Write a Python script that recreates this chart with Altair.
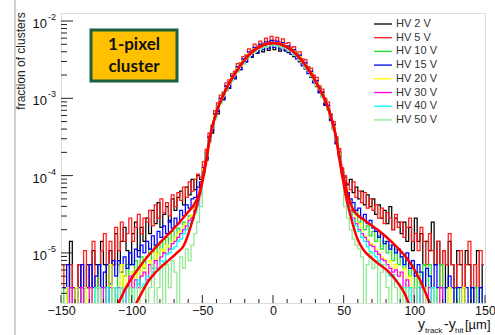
import altair as alt
import pandas as pd

# ---------------- data: log10(fraction of clusters), 2 um bins from -150 to 150 ----------------
bin_centers = list(range(-149, 150, 2))  # 150 bins

hv2_log = [-5.45, -5.45, -7, -4.85, -5.45, -5.45, -5.15, -7, -5.45, -5.15,
           -5.45, -4.97, -5.15, -5.45, -4.85, -5.15, -7, -4.97, -5.15, -4.75,
           -5.15, -4.85, -4.67, -4.97, -5.15, -4.75, -4.60, -4.97, -4.67, -4.85,
           -4.55, -4.75, -4.45, -4.62, -4.35, -4.67, -4.50, -4.40, -4.60, -4.30,
           -4.45, -4.28, -4.20, -4.38, -4.15, -4.25, -4.05, -4.18, -4.00, -4.05,
           -3.95, -3.80, -3.55, -3.45, -3.24, -3.20, -3.04, -3.02, -2.88, -2.87,
           -2.77, -2.75, -2.64, -2.63, -2.55, -2.53, -2.45, -2.47, -2.40, -2.42,
           -2.36, -2.40, -2.33, -2.38, -2.31, -2.37, -2.32, -2.39, -2.34, -2.38,
           -2.41, -2.39, -2.46, -2.45, -2.53, -2.55, -2.62, -2.64, -2.73, -2.77,
           -2.85, -2.92, -2.98, -3.08, -3.15, -3.28, -3.40, -3.58, -3.74, -3.95,
           -4.02, -4.12, -4.05, -4.22, -4.15, -4.30, -4.20, -4.38, -4.25, -4.40,
           -4.30, -4.50, -4.38, -4.55, -4.45, -4.62, -4.40, -4.70, -4.55, -4.60,
           -4.75, -4.60, -4.85, -4.67, -4.97, -4.55, -4.85, -4.75, -5.15, -4.85,
           -4.97, -4.60, -5.15, -4.85, -5.15, -4.97, -5.45, -4.85, -5.15, -5.45,
           -4.97, -5.15, -5.45, -4.97, -5.15, -7, -5.45, -4.97, -5.45, -5.15]
hv5_log = [-5.15, -5.45, -5.45, -5.15, -7, -5.45, -5.15, -5.45, -4.97, -5.45,
           -5.15, -4.85, -5.45, -5.15, -4.97, -4.75, -5.15, -4.85, -5.15, -4.67,
           -4.97, -4.60, -4.85, -4.75, -4.55, -4.85, -4.67, -4.50, -4.75, -4.55,
           -4.60, -4.45, -4.65, -4.38, -4.55, -4.30, -4.48, -4.35, -4.52, -4.25,
           -4.40, -4.22, -4.32, -4.15, -4.28, -4.08, -4.20, -4.05, -3.98, -4.02,
           -3.82, -3.66, -3.45, -3.35, -3.16, -3.06, -2.96, -2.92, -2.80, -2.76,
           -2.68, -2.65, -2.55, -2.54, -2.46, -2.44, -2.36, -2.38, -2.30, -2.32,
           -2.26, -2.29, -2.22, -2.27, -2.20, -2.25, -2.21, -2.27, -2.23, -2.29,
           -2.28, -2.34, -2.33, -2.40, -2.40, -2.49, -2.50, -2.59, -2.61, -2.70,
           -2.73, -2.84, -2.88, -3.00, -3.05, -3.20, -3.30, -3.50, -3.65, -3.90,
           -4.00, -4.10, -4.18, -4.08, -4.28, -4.20, -4.35, -4.22, -4.42, -4.30,
           -4.45, -4.38, -4.55, -4.42, -4.62, -4.48, -4.55, -4.70, -4.50, -4.67,
           -4.60, -4.80, -4.67, -4.55, -4.85, -4.75, -4.97, -4.67, -4.85, -5.15,
           -4.75, -4.97, -5.15, -4.85, -5.45, -4.97, -5.15, -4.75, -5.15, -5.45,
           -5.15, -4.97, -5.45, -5.15, -4.85, -5.45, -5.15, -7, -4.97, -5.15]
hv10_log = [-7, -5.45, -7, -7, -5.45, -5.45, -7, -5.45, -7, -5.45,
            -5.45, -7, -5.45, -5.15, -7, -5.45, -5.45, -5.15, -7, -5.45,
            -5.15, -5.45, -5.30, -5.15, -7, -5.25, -5.10, -5.40, -5.05, -5.20,
            -5.05, -4.95, -5.20, -4.90, -5.10, -4.85, -5.00, -4.80, -4.95, -4.72,
            -4.85, -4.68, -4.75, -4.60, -4.70, -4.52, -4.55, -4.40, -4.30, -4.15,
            -3.94, -3.70, -3.56, -3.35, -3.25, -3.10, -3.05, -2.93, -2.89, -2.79,
            -2.75, -2.67, -2.63, -2.56, -2.53, -2.46, -2.44, -2.39, -2.38, -2.34,
            -2.34, -2.30, -2.31, -2.28, -2.29, -2.28, -2.30, -2.29, -2.32, -2.32,
            -2.36, -2.36, -2.41, -2.42, -2.48, -2.51, -2.58, -2.61, -2.69, -2.73,
            -2.81, -2.86, -2.96, -3.02, -3.13, -3.22, -3.38, -3.52, -3.74, -3.94,
            -4.15, -4.28, -4.35, -4.48, -4.45, -4.60, -4.55, -4.70, -4.65, -4.78,
            -4.72, -4.85, -4.78, -4.95, -4.85, -5.00, -4.90, -5.10, -4.95, -5.15,
            -5.05, -5.20, -5.10, -5.30, -5.15, -7, -5.25, -5.45, -5.15, -5.45,
            -5.15, -5.45, -7, -5.45, -5.15, -5.45, -7, -5.45, -5.45, -7,
            -5.45, -7, -5.45, -7, -7, -5.45, -5.45, -7, -5.45, -7]
hv15_log = [-5.45, -5.45, -5.15, -5.45, -5.45, -7, -5.45, -5.15, -5.45, -5.45,
            -5.15, -5.45, -5.30, -5.15, -5.45, -5.25, -5.15, -5.40, -5.10, -5.30,
            -5.10, -5.25, -5.05, -5.20, -5.00, -5.15, -4.95, -5.05, -4.90, -5.00,
            -4.85, -4.95, -4.78, -4.90, -4.72, -4.80, -4.65, -4.75, -4.58, -4.68,
            -4.55, -4.62, -4.45, -4.52, -4.38, -4.42, -4.30, -4.28, -4.15, -4.08,
            -3.90, -3.78, -3.50, -3.42, -3.20, -3.17, -3.00, -3.01, -2.84, -2.86,
            -2.71, -2.74, -2.59, -2.63, -2.49, -2.53, -2.40, -2.46, -2.34, -2.41,
            -2.30, -2.37, -2.27, -2.35, -2.25, -2.34, -2.26, -2.36, -2.28, -2.39,
            -2.32, -2.43, -2.37, -2.49, -2.44, -2.58, -2.54, -2.68, -2.65, -2.80,
            -2.77, -2.93, -2.92, -3.09, -3.09, -3.29, -3.34, -3.59, -3.70, -3.96,
            -4.10, -4.22, -4.30, -4.35, -4.45, -4.42, -4.55, -4.50, -4.62, -4.58,
            -4.68, -4.72, -4.80, -4.75, -4.88, -4.85, -4.95, -4.90, -5.00, -4.95,
            -5.05, -5.15, -5.00, -5.20, -5.10, -5.30, -5.15, -5.25, -5.45, -5.20,
            -5.30, -5.45, -5.15, -5.45, -5.45, -7, -5.45, -5.30, -5.45, -7,
            -5.45, -5.45, -7, -5.45, -7, -5.45, -7, -7, -5.45, -7]
hv20_log = [-7, -7, -5.45, -7, -7, -5.45, -7, -7, -5.45, -7,
            -5.45, -7, -5.45, -5.45, -7, -5.45, -7, -5.15, -5.45, -7,
            -5.45, -5.15, -5.45, -5.30, -5.45, -5.25, -5.40, -5.20, -5.30, -5.15,
            -5.25, -5.10, -5.15, -5.00, -5.10, -4.95, -4.98, -4.90, -4.92, -4.85,
            -4.80, -4.75, -4.72, -4.65, -4.62, -4.55, -4.50, -4.42, -4.35, -4.22,
            -3.91, -3.73, -3.52, -3.38, -3.22, -3.13, -3.02, -2.96, -2.86, -2.81,
            -2.73, -2.69, -2.61, -2.58, -2.51, -2.48, -2.42, -2.41, -2.36, -2.36,
            -2.32, -2.32, -2.29, -2.30, -2.28, -2.29, -2.28, -2.31, -2.30, -2.34,
            -2.34, -2.38, -2.39, -2.44, -2.46, -2.53, -2.56, -2.63, -2.67, -2.75,
            -2.79, -2.88, -2.94, -3.04, -3.11, -3.24, -3.36, -3.54, -3.71, -3.95,
            -4.22, -4.32, -4.42, -4.50, -4.60, -4.62, -4.72, -4.78, -4.82, -4.88,
            -4.90, -4.95, -5.00, -5.05, -5.08, -5.12, -5.10, -5.20, -5.15, -5.25,
            -5.30, -5.20, -5.45, -5.30, -5.45, -7, -5.45, -5.45, -7, -5.45,
            -7, -5.45, -7, -7, -5.45, -7, -7, -5.45, -7, -7,
            -7, -7, -5.45, -7, -7, -7, -7, -7, -7, -7]
hv30_log = [-7, -7, -7, -5.45, -7, -7, -7, -5.45, -7, -7,
            -5.45, -7, -7, -5.45, -7, -5.45, -7, -5.45, -5.45, -7,
            -5.45, -5.45, -7, -5.45, -5.30, -5.45, -5.35, -5.45, -5.30, -5.25,
            -5.35, -5.15, -5.25, -5.10, -5.20, -5.05, -5.00, -5.02, -4.95, -4.88,
            -4.85, -4.80, -4.75, -4.70, -4.65, -4.58, -4.55, -4.45, -4.38, -4.22,
            -3.95, -3.72, -3.55, -3.37, -3.25, -3.12, -3.05, -2.95, -2.89, -2.80,
            -2.76, -2.68, -2.64, -2.57, -2.54, -2.47, -2.45, -2.40, -2.39, -2.35,
            -2.35, -2.31, -2.32, -2.29, -2.30, -2.29, -2.31, -2.30, -2.33, -2.33,
            -2.37, -2.37, -2.42, -2.43, -2.49, -2.52, -2.59, -2.62, -2.70, -2.74,
            -2.82, -2.87, -2.97, -3.03, -3.14, -3.23, -3.39, -3.53, -3.75, -3.95,
            -4.22, -4.35, -4.45, -4.55, -4.62, -4.70, -4.75, -4.80, -4.85, -4.90,
            -4.92, -4.98, -5.02, -5.08, -5.10, -5.15, -5.20, -5.25, -5.22, -5.30,
            -5.25, -5.45, -5.35, -5.45, -7, -5.45, -7, -5.45, -7, -7,
            -5.45, -7, -7, -7, -5.45, -7, -7, -7, -7, -7,
            -7, -7, -7, -7, -7, -7, -7, -7, -7, -7]
hv40_log = [-7, -7, -7, -7, -7, -7, -7, -7, -7, -7,
            -7, -7, -5.45, -7, -7, -7, -5.45, -7, -7, -5.45,
            -7, -5.45, -7, -5.45, -5.45, -7, -5.45, -5.35, -5.45, -5.40,
            -5.30, -5.35, -5.25, -5.20, -5.22, -5.10, -5.12, -5.02, -5.00, -4.95,
            -4.92, -4.85, -4.82, -4.75, -4.70, -4.62, -4.58, -4.48, -4.40, -4.25,
            -3.96, -3.73, -3.56, -3.38, -3.26, -3.13, -3.06, -2.96, -2.90, -2.81,
            -2.77, -2.69, -2.65, -2.58, -2.55, -2.48, -2.46, -2.41, -2.40, -2.36,
            -2.36, -2.32, -2.33, -2.30, -2.31, -2.30, -2.32, -2.31, -2.34, -2.34,
            -2.38, -2.38, -2.43, -2.44, -2.50, -2.53, -2.60, -2.63, -2.71, -2.75,
            -2.83, -2.88, -2.98, -3.04, -3.15, -3.24, -3.40, -3.54, -3.76, -3.96,
            -4.25, -4.38, -4.48, -4.58, -4.65, -4.72, -4.80, -4.85, -4.92, -4.98,
            -5.00, -5.05, -5.10, -5.15, -5.20, -5.25, -5.30, -5.28, -5.35, -5.40,
            -5.45, -5.45, -7, -5.45, -7, -7, -5.45, -7, -7, -7,
            -7, -5.45, -7, -7, -7, -7, -7, -7, -7, -7,
            -7, -7, -7, -7, -7, -7, -7, -7, -7, -7]
hv50_log = [-7, -7, -7, -7, -7, -7, -7, -7, -7, -7,
            -7, -7, -7, -5.45, -7, -7, -7, -7, -5.45, -7,
            -7, -5.45, -7, -7, -5.45, -7, -5.45, -7, -5.45, -5.45,
            -7, -5.45, -5.15, -7, -5.45, -5.15, -7, -5.15, -5.45, -5.10,
            -5.25, -7, -5.05, -5.20, -4.95, -5.10, -4.90, -4.75, -4.60, -4.40,
            -3.98, -3.75, -3.57, -3.39, -3.27, -3.14, -3.07, -2.97, -2.91, -2.82,
            -2.78, -2.70, -2.66, -2.59, -2.56, -2.49, -2.47, -2.42, -2.41, -2.37,
            -2.37, -2.33, -2.34, -2.31, -2.32, -2.31, -2.33, -2.32, -2.35, -2.35,
            -2.39, -2.39, -2.44, -2.45, -2.51, -2.54, -2.61, -2.64, -2.72, -2.76,
            -2.84, -2.89, -2.99, -3.05, -3.16, -3.25, -3.41, -3.55, -3.77, -3.98,
            -4.40, -4.55, -4.70, -4.82, -4.90, -4.95, -5.05, -7, -5.15, -5.00,
            -5.20, -5.10, -7, -5.25, -5.15, -5.45, -7, -5.30, -5.45, -7,
            -5.45, -7, -5.45, -7, -7, -5.45, -7, -7, -5.45, -7,
            -7, -7, -7, -7, -7, -7, -7, -7, -7, -7,
            -7, -7, -7, -7, -7, -7, -7, -7, -7, -7]

series_names = ["HV 2 V", "HV 5 V", "HV 10 V", "HV 15 V", "HV 20 V", "HV 30 V", "HV 40 V", "HV 50 V"]
series_colors = ["#000000", "#ff1a1a", "#22dd22", "#0000ff", "#ffff00", "#ff00ff", "#00ffff", "#90e890"]
series_logs = [hv2_log, hv5_log, hv10_log, hv15_log, hv20_log, hv30_log, hv40_log, hv50_log]

# fitted curves (log10)
fit_wide_x = [-110, -104, -96, -88, -80, -72, -66, -60, -56, -52, -50, -48, -44, -40, -36, -32, -28, -24, -20, -16, -12, -8, -4, 0,
              4, 8, 12, 16, 20, 24, 28, 32, 36, 40, 44, 48, 50, 52, 57, 65, 74, 80, 88, 96, 104, 112]
fit_wide_log = [-5.68, -5.45, -5.22, -5.03, -4.87, -4.72, -4.60, -4.47, -4.38, -4.22, -4.05, -3.85, -3.45, -3.18, -2.99, -2.84, -2.71, -2.60, -2.50, -2.42, -2.36, -2.32, -2.295, -2.285,
                -2.295, -2.32, -2.36, -2.42, -2.50, -2.60, -2.71, -2.84, -2.99, -3.18, -3.45, -3.85, -4.02, -4.18, -4.45, -4.58, -4.70, -4.79, -4.93, -5.10, -5.35, -5.70]
fit_narrow_x = [-98, -93, -88, -83, -76, -68, -63, -60, -56, -52, -48, -44, -40, -36, -32, -28, -24, -20, -16, -12, -8, -4, 0,
                4, 8, 12, 16, 20, 24, 28, 32, 36, 40, 44, 48, 52, 56, 60, 64, 70, 76, 81, 88, 93, 97]
fit_narrow_log = [-5.70, -5.52, -5.36, -5.25, -5.13, -5.00, -4.90, -4.76, -4.52, -4.25, -3.90, -3.45, -3.18, -2.99, -2.84, -2.71, -2.60, -2.50, -2.42, -2.36, -2.32, -2.295, -2.285,
                  -2.295, -2.32, -2.36, -2.42, -2.50, -2.60, -2.71, -2.84, -2.99, -3.18, -3.45, -3.90, -4.30, -4.60, -4.83, -4.96, -5.07, -5.16, -5.23, -5.38, -5.52, -5.70]

x_tick_labels = [-150, -100, -50, 0, 50, 100, 150]
x_minor_ticks = [v for v in range(-140, 150, 10) if v % 50 != 0]
y_decades = [1e-2, 1e-3, 1e-4, 1e-5]
y_exponents = ["-2", "-3", "-4", "-5"]
Y_MIN, Y_MAX = 2.25e-6, 1.27e-2
y_minor_ticks = [k * 10.0 ** e for e in range(-6, -1) for k in range(2, 10) if Y_MIN <= k * 10.0 ** e <= Y_MAX]

W, H = 424, 290
FONT = "Liberation Sans"

xs = alt.Scale(domain=[-150, 150], nice=False, zero=False)
ys = alt.Scale(type="log", domain=[Y_MIN, Y_MAX], nice=False)
x_axis = alt.Axis(values=x_tick_labels, ticks=False, domain=False, grid=False, labelFontSize=12.5,
                  labelPadding=1, labelColor="#111111", labelFont=FONT, labelOverlap=False,
                  labelFlush=False, labelBound=False, title=None)
X = alt.X("x:Q", scale=xs, axis=x_axis)
Y = alt.Y("y:Q", scale=ys, axis=None)

one = pd.DataFrame({"a": [0]})
layers = []

# slide border line
layers.append(alt.Chart(one).mark_rule(color="#d0d0d0", strokeWidth=2).encode(
    x=alt.value(-46), y=alt.value(-13), y2=alt.value(322)))

# histograms
for name, color, vals in zip(series_names, series_colors, series_logs):
    df = pd.DataFrame({"x": bin_centers, "y": [10 ** v for v in vals]})
    layers.append(alt.Chart(df).mark_line(interpolate="step", color=color, strokeWidth=1.25, clip=True)
                  .encode(x=X, y=Y))

# fits
for fx, fl in [(fit_wide_x, fit_wide_log), (fit_narrow_x, fit_narrow_log)]:
    df = pd.DataFrame({"x": fx, "y": [10 ** v for v in fl]})
    layers.append(alt.Chart(df).mark_line(interpolate="monotone", color="#ff0000", strokeWidth=2.5, clip=True)
                  .encode(x=X, y=Y))

# inward ticks
layers.append(alt.Chart(pd.DataFrame({"y": y_decades})).mark_rule(color="#222222", strokeWidth=1).encode(
    y=Y, x=alt.value(0), x2=alt.value(12)))
layers.append(alt.Chart(pd.DataFrame({"y": y_minor_ticks})).mark_rule(color="#222222", strokeWidth=1).encode(
    y=Y, x=alt.value(0), x2=alt.value(6)))
layers.append(alt.Chart(pd.DataFrame({"x": x_tick_labels})).mark_rule(color="#222222", strokeWidth=1).encode(
    x=X, y=alt.value(H), y2=alt.value(H - 8)))
layers.append(alt.Chart(pd.DataFrame({"x": x_minor_ticks})).mark_rule(color="#222222", strokeWidth=1).encode(
    x=X, y=alt.value(H), y2=alt.value(H - 4)))

# y tick labels 10^n
ylab = pd.DataFrame({"y": y_decades, "base": ["10"] * 4, "exp": y_exponents})
layers.append(alt.Chart(ylab).mark_text(align="right", baseline="middle", fontSize=13, dy=3, font=FONT,
                                        color="#111111").encode(y=Y, x=alt.value(-14), text="base:N"))
layers.append(alt.Chart(ylab).mark_text(align="left", baseline="middle", fontSize=9, dy=-4, font=FONT,
                                        color="#111111").encode(y=Y, x=alt.value(-13), text="exp:N"))

# y title
layers.append(alt.Chart(one).mark_text(text="fraction of clusters", angle=270, align="center", baseline="middle",
                                       fontSize=12, font=FONT, color="#222222").encode(
    x=alt.value(-40), y=alt.value(48)))

# x title with subscripts (baseline alphabetic)
xt = [("y", 357, 316, 14), ("track", 364, 320, 8), ("-y", 383, 316, 14), ("hit", 394, 320, 8), ("[\u00b5m]", 404, 316, 13)]
for t, px, py, fs in xt:
    layers.append(alt.Chart(one).mark_text(text=t, align="left", baseline="alphabetic", fontSize=fs, font=FONT,
                                           color="#111111").encode(x=alt.value(px), y=alt.value(py)))

# label box
layers.append(alt.Chart(one).mark_rect(fill="#FFC000", stroke="#1D5E3B", strokeWidth=3).encode(
    x=alt.value(30), x2=alt.value(116), y=alt.value(17), y2=alt.value(68)))
for t, py in [("1-pixel", 32), ("cluster", 54)]:
    layers.append(alt.Chart(one).mark_text(text=t, align="center", baseline="middle", fontSize=17, font="Lato",
                                           fontWeight="bold", color="#111111").encode(
        x=alt.value(73), y=alt.value(py)))

# legend
for i, (name, color) in enumerate(zip(series_names, series_colors)):
    ly = 11 + 13.7 * i
    layers.append(alt.Chart(one).mark_rule(color=color, strokeWidth=1.3).encode(
        x=alt.value(313), x2=alt.value(331), y=alt.value(ly)))
    layers.append(alt.Chart(one).mark_text(text=name, align="left", baseline="middle", fontSize=11, font=FONT,
                                           color="#333333").encode(x=alt.value(335), y=alt.value(ly)))

chart = alt.layer(*layers).properties(
    width=W, height=H,
    autosize=alt.AutoSizeParams(type="none"),
    padding={"left": 61, "top": 13, "right": 10, "bottom": 32},
).configure_view(stroke="#333333", strokeWidth=1).configure(background="white")

chart.save("out.html", embed_options={"renderer": "svg", "actions": False})
